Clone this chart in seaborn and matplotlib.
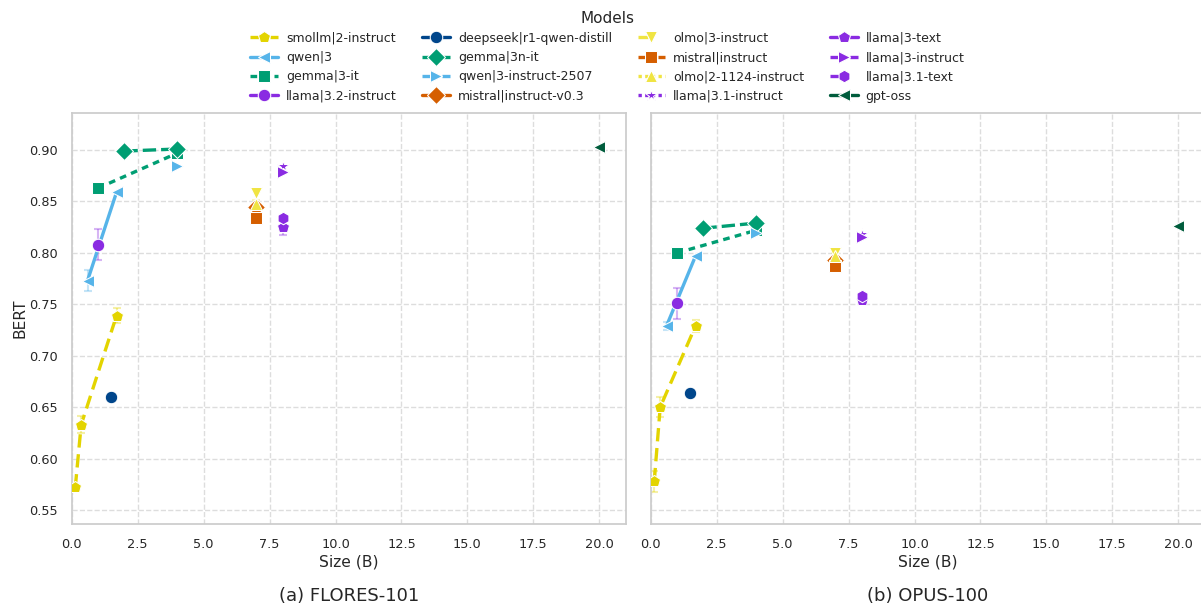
import numpy as np
import pandas as pd
import matplotlib
matplotlib.use("Agg")
import matplotlib.pyplot as plt
import seaborn as sns

# ---------------- data ----------------
models = [
    "smollm|2-instruct", "qwen|3", "gemma|3-it", "llama|3.2-instruct",
    "deepseek|r1-qwen-distill", "gemma|3n-it", "qwen|3-instruct-2507", "mistral|instruct-v0.3",
    "olmo|3-instruct", "mistral|instruct", "olmo|2-1124-instruct", "llama|3.1-instruct",
    "llama|3-text", "llama|3-instruct", "llama|3.1-text", "gpt-oss",
]

row_model = [
    "smollm|2-instruct", "smollm|2-instruct", "smollm|2-instruct",
    "qwen|3", "qwen|3",
    "gemma|3-it", "gemma|3-it",
    "llama|3.2-instruct",
    "deepseek|r1-qwen-distill",
    "gemma|3n-it", "gemma|3n-it",
    "qwen|3-instruct-2507",
    "mistral|instruct-v0.3",
    "olmo|3-instruct",
    "mistral|instruct",
    "olmo|2-1124-instruct",
    "llama|3.1-instruct",
    "llama|3-text",
    "llama|3-instruct",
    "llama|3.1-text",
    "gpt-oss",
]
row_size = [0.135, 0.36, 1.7, 0.6, 1.7, 1.0, 4.0, 1.0, 1.5, 2.0, 4.0, 4.0,
            7.0, 7.0, 7.0, 7.0, 8.0, 8.0, 8.0, 8.0, 20.0]
flores_bert = [0.572, 0.633, 0.739, 0.773, 0.859, 0.863, 0.897, 0.808, 0.660, 0.899, 0.901, 0.884,
               0.845, 0.858, 0.834, 0.848, 0.884, 0.825, 0.879, 0.834, 0.903]
flores_err = [0.003, 0.008, 0.007, 0.010, 0.0, 0.0, 0.0, 0.015, 0.0, 0.0, 0.0, 0.0,
              0.003, 0.0, 0.0, 0.003, 0.0, 0.008, 0.0, 0.0, 0.0]
opus_bert = [0.578, 0.650, 0.729, 0.729, 0.797, 0.800, 0.822, 0.751, 0.664, 0.824, 0.829, 0.819,
             0.793, 0.800, 0.787, 0.797, 0.818, 0.754, 0.815, 0.758, 0.826]
opus_err = [0.010, 0.010, 0.006, 0.004, 0.0, 0.0, 0.0, 0.015, 0.0, 0.0, 0.0, 0.0,
            0.0, 0.0, 0.0, 0.003, 0.0, 0.003, 0.0, 0.0, 0.0]

subtitles = ["(a) FLORES-101", "(b) OPUS-100"]
y_ticks = [0.55, 0.60, 0.65, 0.70, 0.75, 0.80, 0.85, 0.90]

# ---------------- styles ----------------
palette = {
    "smollm|2-instruct": "#E3D400",
    "qwen|3": "#56B4E9",
    "gemma|3-it": "#009E73",
    "llama|3.2-instruct": "#8A2BE2",
    "deepseek|r1-qwen-distill": "#00468B",
    "gemma|3n-it": "#009E73",
    "qwen|3-instruct-2507": "#56B4E9",
    "mistral|instruct-v0.3": "#D55E00",
    "olmo|3-instruct": "#F0E442",
    "mistral|instruct": "#D55E00",
    "olmo|2-1124-instruct": "#F0E442",
    "llama|3.1-instruct": "#8A2BE2",
    "llama|3-text": "#8A2BE2",
    "llama|3-instruct": "#8A2BE2",
    "llama|3.1-text": "#8A2BE2",
    "gpt-oss": "#005C3C",
}
markers = {
    "smollm|2-instruct": "p",
    "qwen|3": "<",
    "gemma|3-it": "s",
    "llama|3.2-instruct": "o",
    "deepseek|r1-qwen-distill": "o",
    "gemma|3n-it": "D",
    "qwen|3-instruct-2507": ">",
    "mistral|instruct-v0.3": "D",
    "olmo|3-instruct": "v",
    "mistral|instruct": "s",
    "olmo|2-1124-instruct": "^",
    "llama|3.1-instruct": "*",
    "llama|3-text": "p",
    "llama|3-instruct": ">",
    "llama|3.1-text": "h",
    "gpt-oss": "<",
}
dashes = {
    "smollm|2-instruct": (4, 2),
    "qwen|3": "",
    "gemma|3-it": (2, 1.6),
    "llama|3.2-instruct": "",
    "deepseek|r1-qwen-distill": "",
    "gemma|3n-it": (4, 1.5),
    "qwen|3-instruct-2507": (3, 3),
    "mistral|instruct-v0.3": "",
    "olmo|3-instruct": (3, 8),
    "mistral|instruct": (3, 3),
    "olmo|2-1124-instruct": (1, 1),
    "llama|3.1-instruct": (1, 1),
    "llama|3-text": "",
    "llama|3-instruct": (3, 3),
    "llama|3.1-text": (3, 8),
    "gpt-oss": "",
}

sns.set_theme(style="whitegrid", rc={
    "grid.linestyle": "--",
    "grid.color": "#dddddd",
    "grid.linewidth": 1.0,
    "axes.edgecolor": "#cccccc",
    "axes.linewidth": 1.25,
})
plt.rcParams["font.family"] = ["DejaVu Sans"]

W, H = 1201, 605
fig = plt.figure(figsize=(W / 100, H / 100), dpi=100)
ax_l = 71.7
ax_w = 554
ax_b = H - 523.7
ax_h = 411
ax1 = fig.add_axes([ax_l / W, ax_b / H, ax_w / W, ax_h / H])
ax2 = fig.add_axes([650.7 / W, ax_b / H, ax_w / W, ax_h / H], sharey=ax1)

for i, (ax, vals, errs) in enumerate([(ax1, flores_bert, flores_err), (ax2, opus_bert, opus_err)]):
    df = pd.DataFrame({"Model": row_model, "Size": row_size, "BERT": vals, "err": errs})
    # error bars
    for _, r in df[df["err"] > 0].iterrows():
        ax.errorbar(r["Size"], r["BERT"], yerr=r["err"], fmt="none",
                    ecolor=palette[r["Model"]], alpha=0.35, capsize=3, elinewidth=1.5,
                    capthick=1.5, zorder=1.5)
    sns.lineplot(data=df, x="Size", y="BERT", hue="Model", style="Model",
                 hue_order=models, style_order=models, palette=palette,
                 markers=markers, dashes=dashes, markersize=9, linewidth=2.4,
                 markeredgecolor="white", markeredgewidth=0.75,
                 ax=ax, legend=(i == 0), zorder=3, errorbar=None)
    ax.set_xlim(0, 21.0)
    ax.set_ylim(0.5367, 0.9363)
    ax.set_yticks(y_ticks)
    ax.set_xticks([0, 2.5, 5, 7.5, 10, 12.5, 15, 17.5, 20])
    ax.tick_params(labelsize=9.3, pad=4)
    ax.set_xlabel("Size (B)", fontsize=11.2, labelpad=3)
    if i == 0:
        ax.set_ylabel("BERT", fontsize=11.2, labelpad=1)
    else:
        ax.set_ylabel("")
        ax.tick_params(labelleft=False)
    ax.grid(True, linestyle="--", color="#dddddd")
    cx = (ax_l + ax_w / 2) if i == 0 else (650.7 + ax_w / 2)
    fig.text(cx / W, 1 - 596 / H, subtitles[i], ha="center", va="center", fontsize=13)

handles, labels = ax1.get_legend_handles_labels()
ax1.get_legend().remove()
fig.legend(handles, labels, loc="upper center", bbox_to_anchor=(0.5058, 0.997), ncol=4,
           title="Models", frameon=False, fontsize=9, title_fontsize=11,
           handlelength=2.2, handletextpad=0.65, columnspacing=2.05, labelspacing=0.5,
           borderaxespad=0.3)

fig.savefig("out.png", dpi=100)
